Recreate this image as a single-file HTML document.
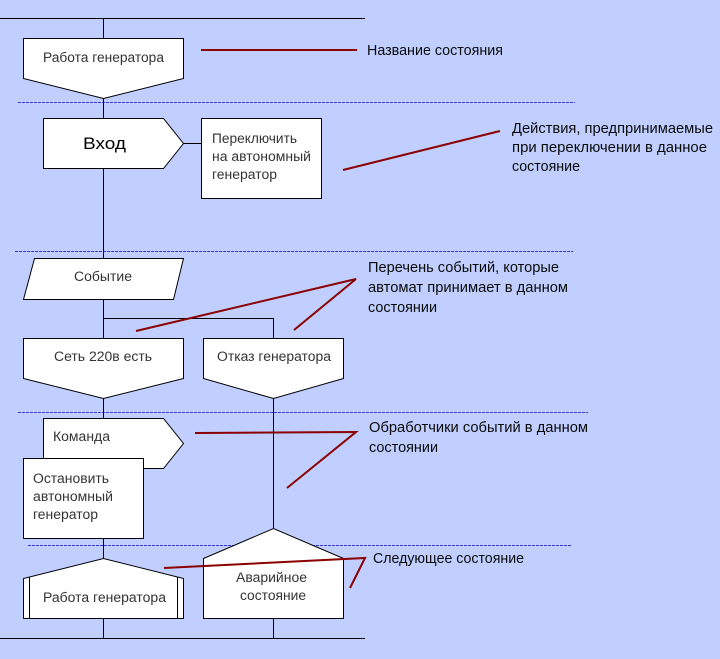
<!DOCTYPE html>
<html><head><meta charset="utf-8"><style>
html,body{margin:0;padding:0;background:#c0cfff;}
svg{display:block;}
text{font-family:"Liberation Sans","DejaVu Sans",sans-serif;}
.d{font-size:13.5px;fill:#333;}
.a{font-size:15px;fill:#0a0a0a;}
</style></head><body>
<svg width="720" height="659" viewBox="0 0 720 659" xmlns="http://www.w3.org/2000/svg">
<rect width="720" height="659" fill="#c0cfff"/>
<!-- dashed separators -->
<g stroke="#3535d5" stroke-width="1" stroke-dasharray="3 1">
<line x1="18" y1="102.5" x2="575" y2="102.5"/>
<line x1="15" y1="251.5" x2="573" y2="251.5"/>
<line x1="18" y1="412.5" x2="588" y2="412.5"/>
<line x1="28" y1="545.5" x2="571" y2="545.5"/>
</g>
<!-- connectors -->
<g stroke="#000" stroke-width="1" fill="none">
<line x1="0" y1="18.5" x2="365" y2="18.5"/>
<line x1="0" y1="638.5" x2="365" y2="638.5"/>
<line x1="103.5" y1="18" x2="103.5" y2="638"/>
<polyline points="103.5,318.5 273.5,318.5 273.5,338"/>
<line x1="273.5" y1="398" x2="273.5" y2="528"/>
<line x1="273.5" y1="618" x2="273.5" y2="638"/>
<line x1="183" y1="143.5" x2="201" y2="143.5"/>
</g>
<!-- shapes -->
<g stroke="#000" stroke-width="1" fill="#fff">
<path d="M23.5,38.5 H183.5 V78.5 L103.5,98.5 L23.5,78.5 Z"/>
<path d="M43.5,118.5 H163.5 L183.5,143.5 L163.5,168.5 H43.5 Z"/>
<rect x="201.5" y="118.5" width="120" height="80"/>
<path d="M34.5,258.5 H183.5 L173.5,299.5 H23.5 Z"/>
<path d="M23.5,338.5 H183.5 V378.5 L103.5,398.5 L23.5,378.5 Z"/>
<path d="M203.5,338.5 H343.5 V378.5 L273.5,398.5 L203.5,378.5 Z"/>
<path d="M43.5,418.5 H163.5 L183.5,443.5 L163.5,468.5 H43.5 Z"/>
<rect x="23.5" y="458.5" width="120" height="80"/>
<path d="M23.5,618.5 V578.5 L103.5,558.5 L183.5,578.5 V618.5 Z"/>
<line x1="29.5" y1="577" x2="29.5" y2="618"/>
<line x1="177.5" y1="577" x2="177.5" y2="618"/>
<path d="M203.5,618.5 V558.5 L273.5,528.5 L343.5,558.5 V618.5 Z"/>
</g>
<!-- diagram text -->
<text class="d" x="43" y="62" textLength="121" lengthAdjust="spacingAndGlyphs">Работа генератора</text>
<text x="83" y="149" style="font-size:17px;fill:#000" textLength="43" lengthAdjust="spacingAndGlyphs">Вход</text>
<text class="d" x="212" y="143" textLength="85" lengthAdjust="spacingAndGlyphs">Переключить</text>
<text class="d" x="212" y="161" textLength="99" lengthAdjust="spacingAndGlyphs">на автономный</text>
<text class="d" x="212" y="179" textLength="65" lengthAdjust="spacingAndGlyphs">генератор</text>
<text class="d" x="74" y="281" textLength="58" lengthAdjust="spacingAndGlyphs">Событие</text>
<text class="d" x="54" y="361" textLength="98" lengthAdjust="spacingAndGlyphs">Сеть 220в есть</text>
<text class="d" x="217" y="361" textLength="114" lengthAdjust="spacingAndGlyphs">Отказ генератора</text>
<text class="d" x="53" y="441" textLength="57" lengthAdjust="spacingAndGlyphs">Команда</text>
<text class="d" x="33" y="483" textLength="76" lengthAdjust="spacingAndGlyphs">Остановить</text>
<text class="d" x="33" y="501" textLength="80" lengthAdjust="spacingAndGlyphs">автономный</text>
<text class="d" x="33" y="519" textLength="65" lengthAdjust="spacingAndGlyphs">генератор</text>
<text class="d" x="43" y="602" textLength="123" lengthAdjust="spacingAndGlyphs">Работа генератора</text>
<text class="d" x="236" y="582" textLength="71" lengthAdjust="spacingAndGlyphs">Аварийное</text>
<text class="d" x="240" y="600" textLength="66" lengthAdjust="spacingAndGlyphs">состояние</text>
<!-- red callout lines -->
<g stroke="#8b0000" stroke-width="2" fill="none">
<line x1="201" y1="50" x2="357" y2="50"/>
<line x1="343" y1="170" x2="500" y2="131"/>
<polyline points="136,331 356,279 294,330"/>
<polyline points="195,433 356,432 287,488"/>
<polyline points="164,568 365,558 350,588"/>
</g>
<!-- annotations -->
<text class="a" x="367" y="55" textLength="136" lengthAdjust="spacingAndGlyphs">Название состояния</text>
<text class="a" x="512" y="133" textLength="201" lengthAdjust="spacingAndGlyphs">Действия, предпринимаемые</text>
<text class="a" x="512" y="152" textLength="195" lengthAdjust="spacingAndGlyphs">при переключении в данное</text>
<text class="a" x="512" y="171" textLength="68" lengthAdjust="spacingAndGlyphs">состояние</text>
<text class="a" x="368" y="272" textLength="191" lengthAdjust="spacingAndGlyphs">Перечень событий, которые</text>
<text class="a" x="368" y="292" textLength="200" lengthAdjust="spacingAndGlyphs">автомат принимает в данном</text>
<text class="a" x="368" y="312" textLength="69" lengthAdjust="spacingAndGlyphs">состоянии</text>
<text class="a" x="369" y="432" textLength="219" lengthAdjust="spacingAndGlyphs">Обработчики событий в данном</text>
<text class="a" x="369" y="452" textLength="69" lengthAdjust="spacingAndGlyphs">состоянии</text>
<text class="a" x="373" y="563" textLength="151" lengthAdjust="spacingAndGlyphs">Следующее состояние</text>
</svg>
</body></html>
